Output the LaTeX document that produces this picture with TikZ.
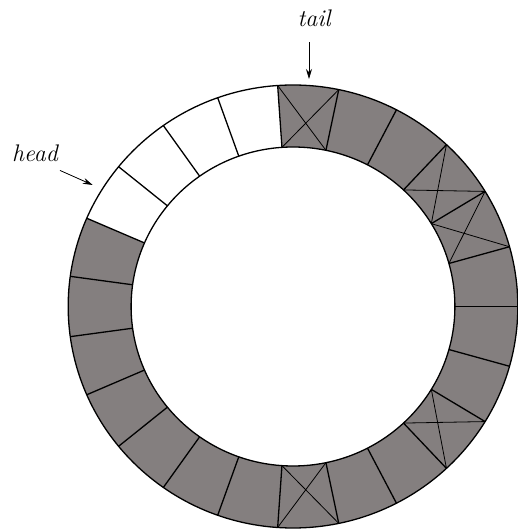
\documentclass[tikz,border=0pt]{standalone}
\usetikzlibrary{arrows.meta}
\definecolor{SlotGray}{HTML}{847F7F}

\begin{document}
\begin{tikzpicture}[x=1pt,y=1pt,>={Stealth[length=10pt,width=6pt]},
    rim/.style={line width=1.3pt},
    cross/.style={line width=0.8pt},
    slotlabel/.style={inner sep=0pt,font=\fontsize{24}{28}\selectfont\itshape}]
  \useasboundingbox (-293,-222.5) rectangle (225,306.5);
  \def\rout{221.5}
  \def\rin{159.5}
  \def\slot{15.65217}
  \begin{scope}[xscale=1.015]
    \foreach \i in {0,...,5,10,11,...,22} {
      \fill[SlotGray] ({\i*\slot}:\rout) arc[start angle={\i*\slot},end angle={(\i+1)*\slot},radius=\rout]
        -- ({(\i+1)*\slot}:\rin) arc[start angle={(\i+1)*\slot},end angle={\i*\slot},radius=\rin] -- cycle;
    }
    \foreach \i in {1,2,5,17,20} {
      \draw[cross] ({\i*\slot}:\rin) -- ({(\i+1)*\slot}:\rout);
      \draw[cross] ({\i*\slot}:\rout) -- ({(\i+1)*\slot}:\rin);
    }
    \foreach \i in {0,...,22}
      \draw[rim] ({\i*\slot}:\rin) -- ({\i*\slot}:\rout);
    \draw[rim] (0,0) circle[radius=\rout];
    \draw[rim] (0,0) circle[radius=\rin];
  \end{scope}
  \coordinate (tailtip) at (16,227.5);
  \coordinate (headtip) at (-200.3,121.5);
  \node[slotlabel,anchor=base] (tail) at (21,279.8) {tail};
  \node[slotlabel,anchor=base] (head) at (-258,144.5) {head};
  \draw[->,line width=0.8pt,shorten <=15pt] (tail.south -| tailtip) -- (tailtip);
  \draw[->,line width=0.8pt] ([shift={(2pt,-8pt)}]head.south east) -- (headtip);
\end{tikzpicture}
\end{document}
